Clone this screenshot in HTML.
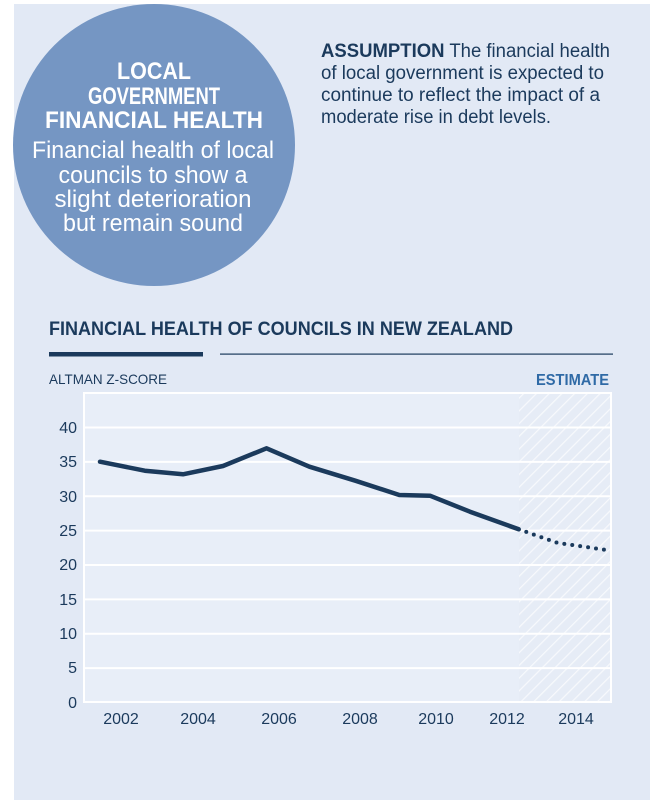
<!DOCTYPE html>
<html><head><meta charset="utf-8"><style>
html,body{margin:0;padding:0;background:#fff;}
svg{display:block;}
text{font-family:"Liberation Sans",sans-serif;}
</style></head><body>
<svg width="660" height="800" viewBox="0 0 660 800" xmlns="http://www.w3.org/2000/svg">
<defs>
<pattern id="h" width="9" height="9" patternUnits="userSpaceOnUse" patternTransform="rotate(45)">
<rect width="9" height="9" fill="#e6ecf6"/>
<line x1="0" y1="0" x2="0" y2="9" stroke="#f7f9fc" stroke-width="2.5"/>
</pattern>
</defs>
<rect x="14" y="4" width="636" height="796" fill="#e2e9f5"/>
<ellipse cx="154" cy="145" rx="141" ry="141" fill="#7596c3"/>
<g fill="#fff" text-anchor="middle" font-size="24">
<text x="154" y="79" font-weight="bold" textLength="74" lengthAdjust="spacingAndGlyphs">LOCAL</text>
<text x="154" y="104" font-weight="bold" textLength="132" lengthAdjust="spacingAndGlyphs">GOVERNMENT</text>
<text x="154" y="128" font-weight="bold" textLength="218" lengthAdjust="spacingAndGlyphs">FINANCIAL HEALTH</text>
<text x="153" y="158" textLength="242" lengthAdjust="spacingAndGlyphs">Financial health of local</text>
<text x="153" y="183" textLength="189" lengthAdjust="spacingAndGlyphs">councils to show a</text>
<text x="153" y="207" textLength="197" lengthAdjust="spacingAndGlyphs">slight deterioration</text>
<text x="153" y="231" textLength="180" lengthAdjust="spacingAndGlyphs">but remain sound</text>
</g>
<g fill="#1b3a5c" font-size="19">
<text x="321" y="57" textLength="289" lengthAdjust="spacingAndGlyphs"><tspan font-weight="bold">ASSUMPTION</tspan> The financial health</text>
<text x="321" y="79" textLength="283" lengthAdjust="spacingAndGlyphs">of local government is expected to</text>
<text x="321" y="101" textLength="279" lengthAdjust="spacingAndGlyphs">continue to reflect the impact of a</text>
<text x="321" y="123" textLength="230" lengthAdjust="spacingAndGlyphs">moderate rise in debt levels.</text>
</g>
<text x="49" y="335" fill="#1b3a5c" font-size="19" font-weight="bold" textLength="464" lengthAdjust="spacingAndGlyphs">FINANCIAL HEALTH OF COUNCILS IN NEW ZEALAND</text>
<rect x="49" y="352" width="154" height="4.5" fill="#1b3a5c"/>
<rect x="220" y="353.5" width="393" height="1.2" fill="#1b3a5c"/>
<text x="49" y="384" fill="#1b3a5c" font-size="14" textLength="118" lengthAdjust="spacingAndGlyphs">ALTMAN Z-SCORE</text>
<text x="609" y="385" fill="#2f6aa6" font-size="16" font-weight="bold" text-anchor="end" textLength="73" lengthAdjust="spacingAndGlyphs">ESTIMATE</text>
<rect x="84" y="393" width="527" height="309" fill="#e8eef8" stroke="#fff" stroke-width="2"/>
<rect x="519" y="394" width="91" height="307" fill="url(#h)"/>
<g stroke="#fff" stroke-width="2">
<line x1="84" y1="427.5" x2="611" y2="427.5"/>
<line x1="84" y1="461.9" x2="611" y2="461.9"/>
<line x1="84" y1="496.3" x2="611" y2="496.3"/>
<line x1="84" y1="530.6" x2="611" y2="530.6"/>
<line x1="84" y1="565" x2="611" y2="565"/>
<line x1="84" y1="599.4" x2="611" y2="599.4"/>
<line x1="84" y1="633.8" x2="611" y2="633.8"/>
<line x1="84" y1="668.1" x2="611" y2="668.1"/>
</g>
<g fill="#1b3a5c" font-size="16" text-anchor="end">
<text x="77" y="433">40</text><text x="77" y="467">35</text><text x="77" y="502">30</text>
<text x="77" y="536">25</text><text x="77" y="570">20</text><text x="77" y="605">15</text>
<text x="77" y="639">10</text><text x="77" y="673">5</text><text x="77" y="708">0</text>
</g>
<g fill="#1b3a5c" font-size="16" text-anchor="middle">
<text x="121" y="724">2002</text><text x="198" y="724">2004</text><text x="279" y="724">2006</text>
<text x="360" y="724">2008</text><text x="436" y="724">2010</text><text x="507" y="724">2012</text>
<text x="576" y="724">2014</text>
</g>
<polyline fill="none" stroke="#1b3a5c" stroke-width="4.5" stroke-linejoin="round" stroke-linecap="round"
points="100,461.7 144.8,470.7 183,474.3 223,466 266.5,448.3 309.4,466.7 355.3,480.7 399.3,495 430,495.7 470,511.7 518.7,529.3"/>
<polyline fill="none" stroke="#1b3a5c" stroke-width="4" stroke-dasharray="0 8" stroke-linecap="round"
points="518.7,529.3 558,543 611.7,550.7"/>
</svg>
</body></html>
